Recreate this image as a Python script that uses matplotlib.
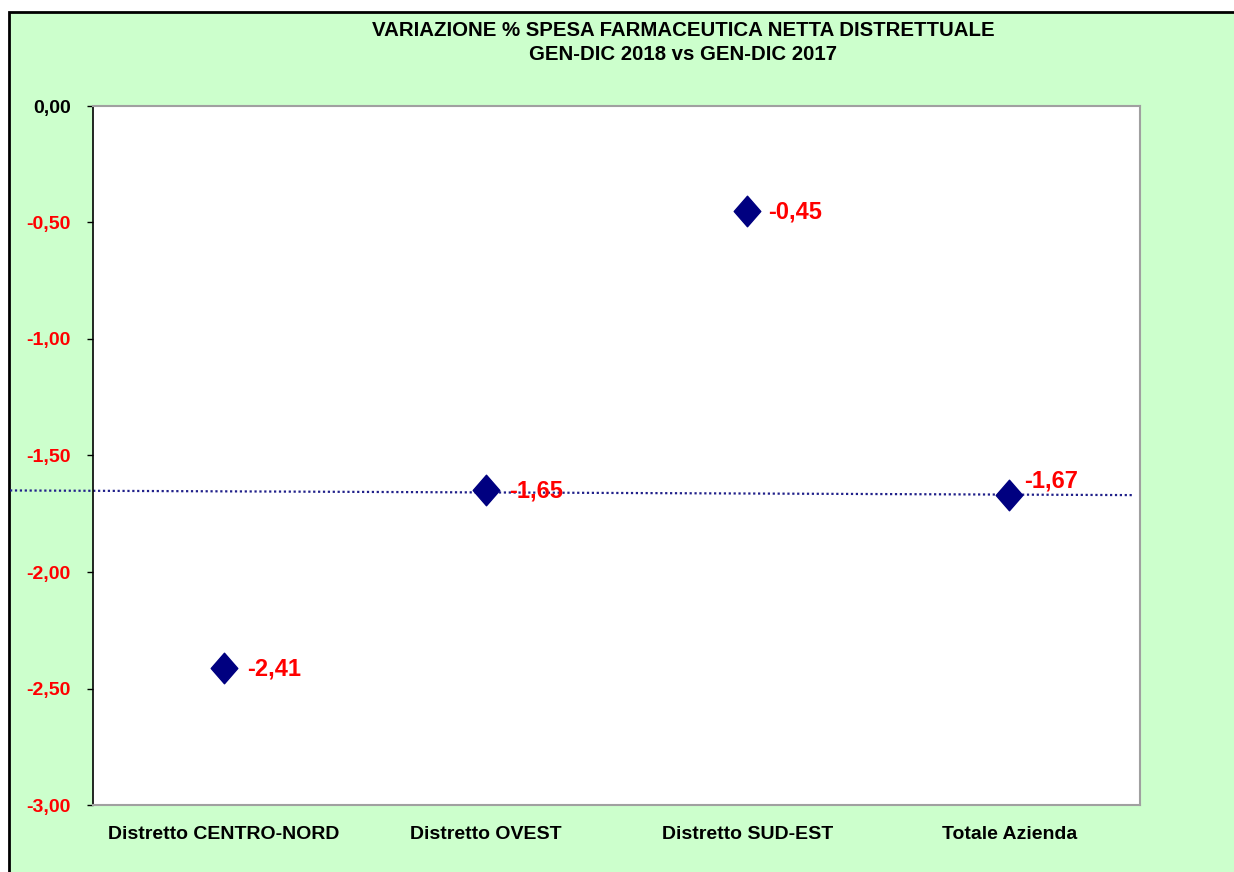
import matplotlib.pyplot as plt
from matplotlib.patches import Rectangle
from matplotlib.path import Path

plt.rcParams['font.family'] = ['Liberation Sans', 'DejaVu Sans']

# dati
distretti = ["Distretto CENTRO-NORD", "Distretto OVEST", "Distretto SUD-EST", "Totale Azienda"]
variazione = [-2.41, -1.65, -0.45, -1.67]
yticks = [0.0, -0.5, -1.0, -1.5, -2.0, -2.5, -3.0]
# linea di riferimento (da OVEST a Totale Azienda)
rif = [-1.65, -1.67]

fig = plt.figure(figsize=(12.34, 8.72), dpi=100)
fig.patch.set_facecolor("white")

# cornice verde
fig.patches.append(Rectangle((9 / 1234, -0.1), 1.2, (872 - 12) / 872 + 0.1,
                             transform=fig.transFigure, facecolor="#ccffcc",
                             edgecolor="black", linewidth=2, zorder=-5))

ax = fig.add_axes([93 / 1234, 67 / 872, 1047 / 1234, 699 / 872])
ax.set_facecolor("white")
ax.set_zorder(2)

# rombo un po' piu' alto che largo
rombo = Path([(0, 1), (0.87, 0), (0, -1), (-0.87, 0), (0, 1)],
             [Path.MOVETO, Path.LINETO, Path.LINETO, Path.LINETO, Path.CLOSEPOLY])

x = list(range(len(distretti)))
ax.plot(x, variazione, linestyle="none", marker=rombo, markersize=22,
        color="#000080", zorder=3)

# linea tratteggiata che esce anche a sinistra dell'area
ax.plot([-0.817, 3.473], rif, linestyle=(0, (1, 1.2)), color="#20208a", linewidth=1.6,
        clip_on=False, zorder=2)

offsets = [(23, -1), (23, -1), (21, -1), (15, 14)]
for i, v in enumerate(variazione):
    ax.annotate(("%.2f" % v).replace(".", ","), (x[i], v),
                xytext=offsets[i], textcoords="offset pixels",
                ha="left", va="center", color="red", fontsize=17,
                fontweight="bold", zorder=4)

ax.set_xlim(-0.5, 3.5)
ax.set_ylim(-3.0, 0.0)
ax.set_xticks(x)
ax.set_xticklabels(distretti, fontsize=14, fontweight="bold")
ax.tick_params(axis="x", length=0, pad=15)
ax.set_yticks(yticks)
ax.set_yticklabels([("%.2f" % t).replace(".", ",") for t in yticks],
                   fontsize=14, fontweight="bold")
ax.tick_params(axis="y", length=4, width=1, direction="out", pad=12)
for lab, t in zip(ax.get_yticklabels(), yticks):
    lab.set_color("black" if t == 0 else "red")

ax.spines["left"].set_color("black")
ax.spines["left"].set_linewidth(1.2)
for s in ["top", "right", "bottom"]:
    ax.spines[s].set_color("#a0a0a0")
    ax.spines[s].set_linewidth(1.5)

fig.text(683 / 1234, 1 - 30 / 872, "VARIAZIONE % SPESA FARMACEUTICA NETTA DISTRETTUALE",
         ha="center", va="center", fontsize=14.7, fontweight="bold")
fig.text(683 / 1234, 1 - 55 / 872, "GEN-DIC 2018 vs GEN-DIC 2017",
         ha="center", va="center", fontsize=14.7, fontweight="bold")

fig.savefig("out.png", dpi=100)
